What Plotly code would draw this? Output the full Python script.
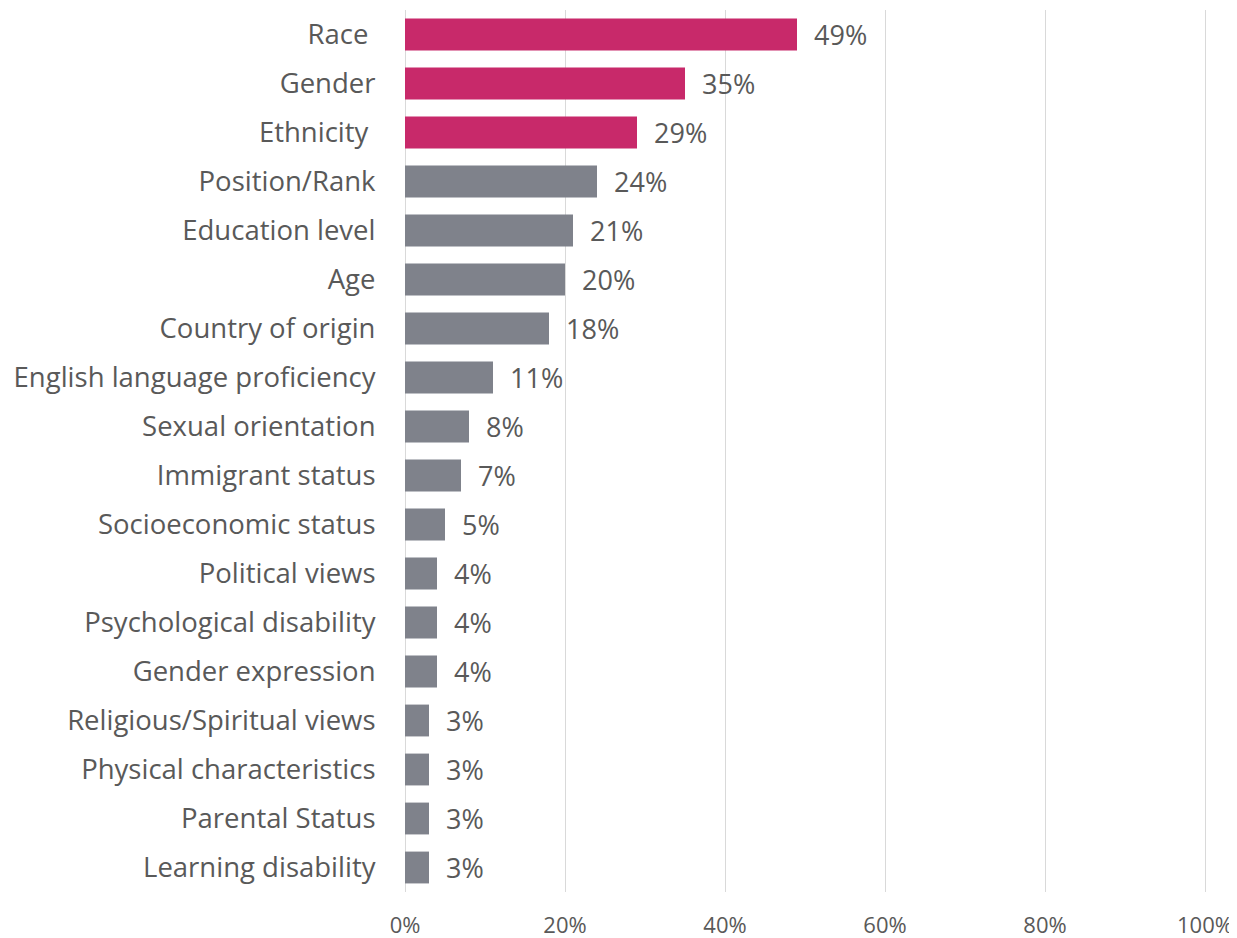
import plotly.graph_objects as go

categories = ["Race ", "Gender", "Ethnicity ", "Position/Rank", "Education level", "Age",
              "Country of origin", "English language proficiency", "Sexual orientation",
              "Immigrant status", "Socioeconomic status", "Political views",
              "Psychological disability", "Gender expression", "Religious/Spiritual views",
              "Physical characteristics", "Parental Status", "Learning disability"]
values = [49, 35, 29, 24, 21, 20, 18, 11, 8, 7, 5, 4, 4, 4, 3, 3, 3, 3]
highlight_count = 3
x_ticks = [0, 20, 40, 60, 80, 100]
x_tick_labels = ["0%", "20%", "40%", "60%", "80%", "100%"]

PINK = "#C8296A"
GRAY = "#7F828B"
colors = [PINK if i < highlight_count else GRAY for i in range(len(values))]
FONT = "Open Sans, Noto Sans, sans-serif"

fig = go.Figure()
fig.add_trace(go.Bar(
    y=categories, x=values, orientation="h",
    marker=dict(color=colors, line=dict(width=0)),
    text=[f"{v}%" for v in values],
    texttemplate="  %{text}",
    textposition="outside",
    constraintext="none",
    textfont=dict(family=FONT, size=27, color="#595959"),
    cliponaxis=False,
    hoverinfo="skip",
))

# page body has an 8px margin, so the figure is sized/offset to compensate
fig.update_layout(
    width=1229, height=930,
    margin=dict(l=397, r=30, t=2, b=46, pad=0),
    plot_bgcolor="white", paper_bgcolor="white",
    bargap=0.35,
    showlegend=False,
    font=dict(family=FONT, color="#595959"),
)
fig.update_xaxes(
    range=[0, 100.25], tickvals=x_ticks, ticktext=x_tick_labels,
    showgrid=True, gridcolor="#D9D9D9", gridwidth=1,
    zeroline=True, zerolinecolor="#D9D9D9", zerolinewidth=1,
    showline=False, automargin=False,
    ticks="outside", ticklen=14, tickcolor="rgba(0,0,0,0)",
    tickfont=dict(size=22, color="#595959"),
    fixedrange=True,
)
fig.update_yaxes(
    categoryorder="array", categoryarray=categories, autorange="reversed",
    showgrid=False, showline=False, zeroline=False, automargin=False,
    ticks="outside", ticklen=23, tickcolor="rgba(0,0,0,0)",
    tickfont=dict(size=27.5, color="#595959"),
    fixedrange=True,
)

fig.write_html("out.html")
